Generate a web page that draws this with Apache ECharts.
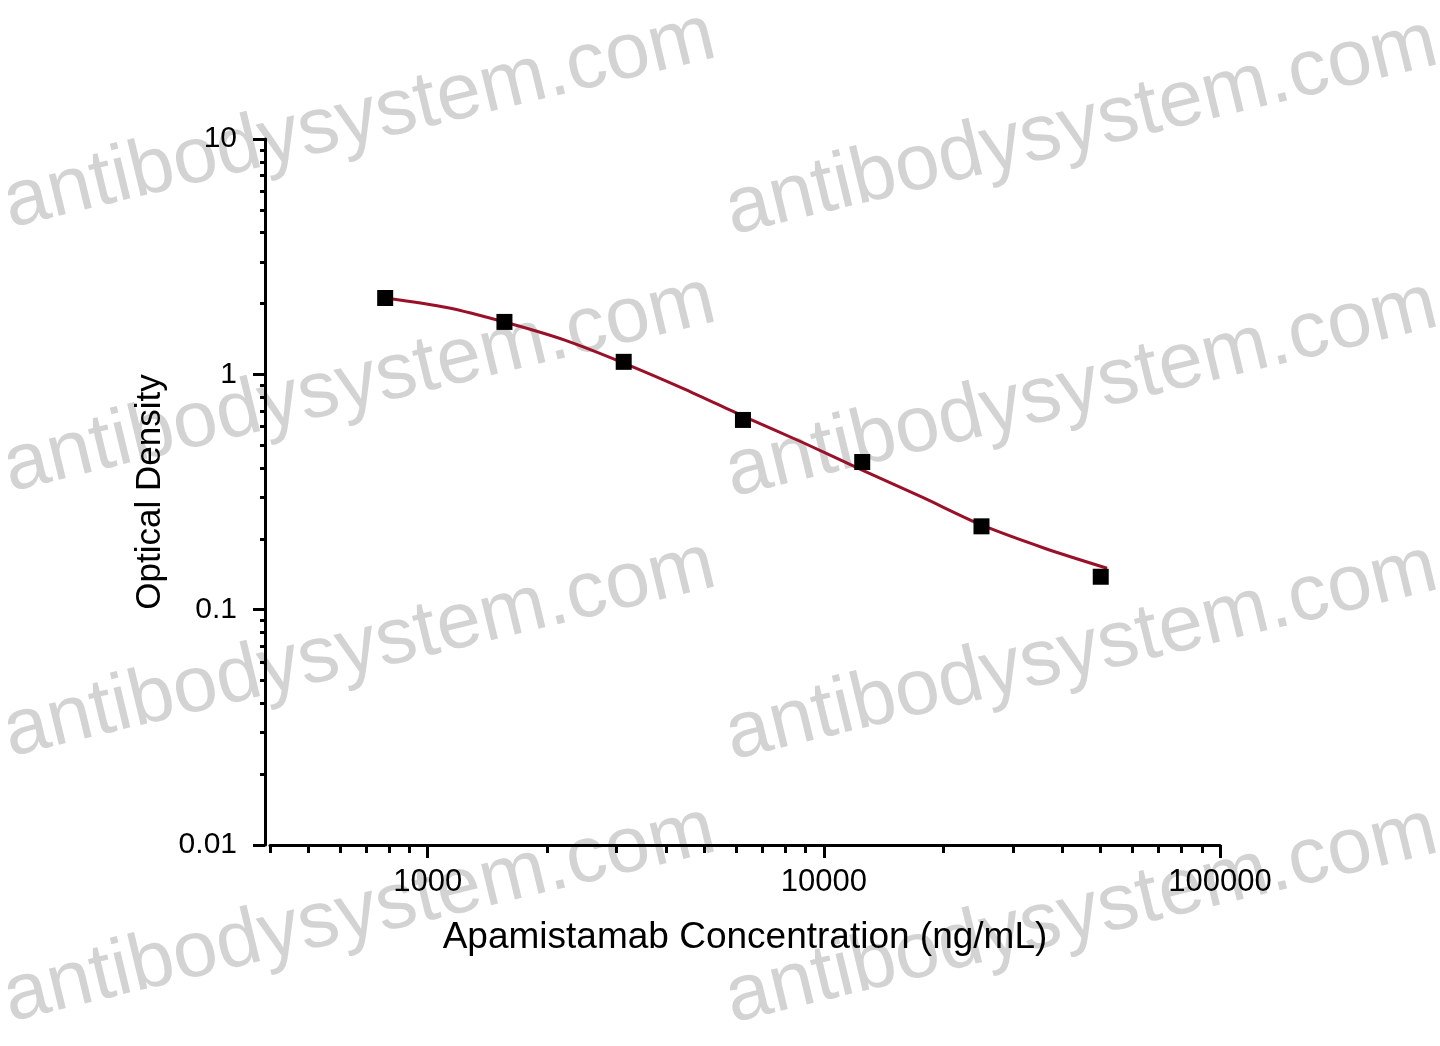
<!DOCTYPE html>
<html>
<head>
<meta charset="utf-8">
<script src="https://cdn.jsdelivr.net/npm/echarts@6/dist/echarts.min.js"></script>
<style>
html,body{margin:0;padding:0;background:#fff;}
#chart{width:1440px;height:1046px;}
</style>
</head>
<body>
<div id="chart"></div>
<script>
// Measured standards (concentration ng/mL, optical density)
const concentrations = [781.25, 1562.5, 3125, 6250, 12500, 25000, 50000];
const odValues = [2.11, 1.67, 1.13, 0.64, 0.424, 0.226, 0.138];

// Fitted curve
const curveX = [781, 1117, 1563, 2228, 3125, 4422, 6250, 8877, 12500, 17820, 25000, 36200, 51880];
const curveY = [2.11, 1.923, 1.668, 1.394, 1.117, 0.870, 0.665, 0.512, 0.392, 0.299, 0.229, 0.182, 0.150];

// Axis ticks
const xMajorTicks = [1000, 10000, 100000];
const xMinorTicks = [400, 500, 600, 700, 800, 900, 2000, 3000, 4000, 5000, 6000, 7000, 8000, 9000,
                     20000, 30000, 40000, 50000, 60000, 70000, 80000, 90000];
const yMinorTicks = [0.02, 0.03, 0.04, 0.05, 0.06, 0.07, 0.08, 0.09,
                     0.2, 0.3, 0.4, 0.5, 0.6, 0.7, 0.8, 0.9,
                     2, 3, 4, 5, 6, 7, 8, 9];

const xTitle = 'Apamistamab Concentration (ng/mL)';
const yTitle = 'Optical Density';
const watermarkText = 'antibodysystem.com';

const FONT = '"Liberation Sans", Arial, Helvetica, sans-serif';
const chart = echarts.init(document.getElementById('chart'));

const wmAnchors = [[5,206],[5,470],[5,735],[5,1000],[727,213],[727,475],[727,738],[727,1001]];
const graphics = wmAnchors.map(p => ({
  type: 'text', x: p[0], y: p[1], rotation: 0.237, z: -10, silent: true,
  style: { text: watermarkText, font: 'normal 80px ' + FONT, fill: '#d3d3d3',
           align: 'left', verticalAlign: 'middle' }
}));

const toLog = v => Math.log10(v);

chart.setOption({
  animation: false,
  backgroundColor: '#ffffff',
  graphic: graphics,
  grid: { left: 270, right: 220, top: 139, bottom: 201, containLabel: false },
  xAxis: [
    {
      type: 'log', logBase: 10, min: 400, max: 100000,
      name: xTitle, nameLocation: 'middle', nameGap: 74,
      nameTextStyle: { fontFamily: FONT, fontSize: 37, color: '#000' },
      axisLine: { show: true, onZero: false, lineStyle: { color: '#000', width: 3 } },
      axisTick: { show: true, customValues: xMajorTicks, length: 13, lineStyle: { color: '#000', width: 3 } },
      axisLabel: { show: true, customValues: xMajorTicks, margin: 22, fontFamily: FONT, fontSize: 31, color: '#000',
                   formatter: v => String(Math.round(v)) },
      splitLine: { show: false }
    },
    {
      type: 'value', min: toLog(400), max: 5, position: 'bottom',
      axisLine: { show: false, onZero: false },
      axisTick: { show: true, customValues: xMinorTicks.map(toLog), length: 8, lineStyle: { color: '#000', width: 3 } },
      axisLabel: { show: false },
      splitLine: { show: false }
    }
  ],
  yAxis: [
    {
      type: 'log', logBase: 10, min: 0.01, max: 10, offset: 5,
      name: yTitle, nameLocation: 'middle', nameGap: 92, nameRotate: 90,
      nameTextStyle: { fontFamily: FONT, fontSize: 35, color: '#000' },
      axisLine: { show: true, onZero: false, lineStyle: { color: '#000', width: 3 } },
      axisTick: { show: true, length: 12, lineStyle: { color: '#000', width: 3 } },
      axisLabel: { show: true, margin: 28, fontFamily: FONT, fontSize: 30, color: '#000',
                   formatter: v => String(parseFloat(Number(v).toPrecision(6))) },
      splitLine: { show: false }
    },
    {
      type: 'value', min: -2, max: 1, position: 'left', offset: 5,
      axisLine: { show: false, onZero: false },
      axisTick: { show: true, customValues: yMinorTicks.map(toLog), length: 5, lineStyle: { color: '#000', width: 3 } },
      axisLabel: { show: false },
      splitLine: { show: false }
    }
  ],
  series: [
    {
      type: 'line', xAxisIndex: 0, yAxisIndex: 0, z: 3,
      data: curveX.map((x, i) => [x, curveY[i]]),
      smooth: 0.25, showSymbol: false, symbol: 'none',
      lineStyle: { color: '#9a1028', width: 3 }
    },
    {
      type: 'scatter', xAxisIndex: 0, yAxisIndex: 0, z: 4,
      data: concentrations.map((x, i) => [x, odValues[i]]),
      symbol: 'rect', symbolSize: 16,
      itemStyle: { color: '#000000', opacity: 1 }
    }
  ]
});
</script>
</body>
</html>
